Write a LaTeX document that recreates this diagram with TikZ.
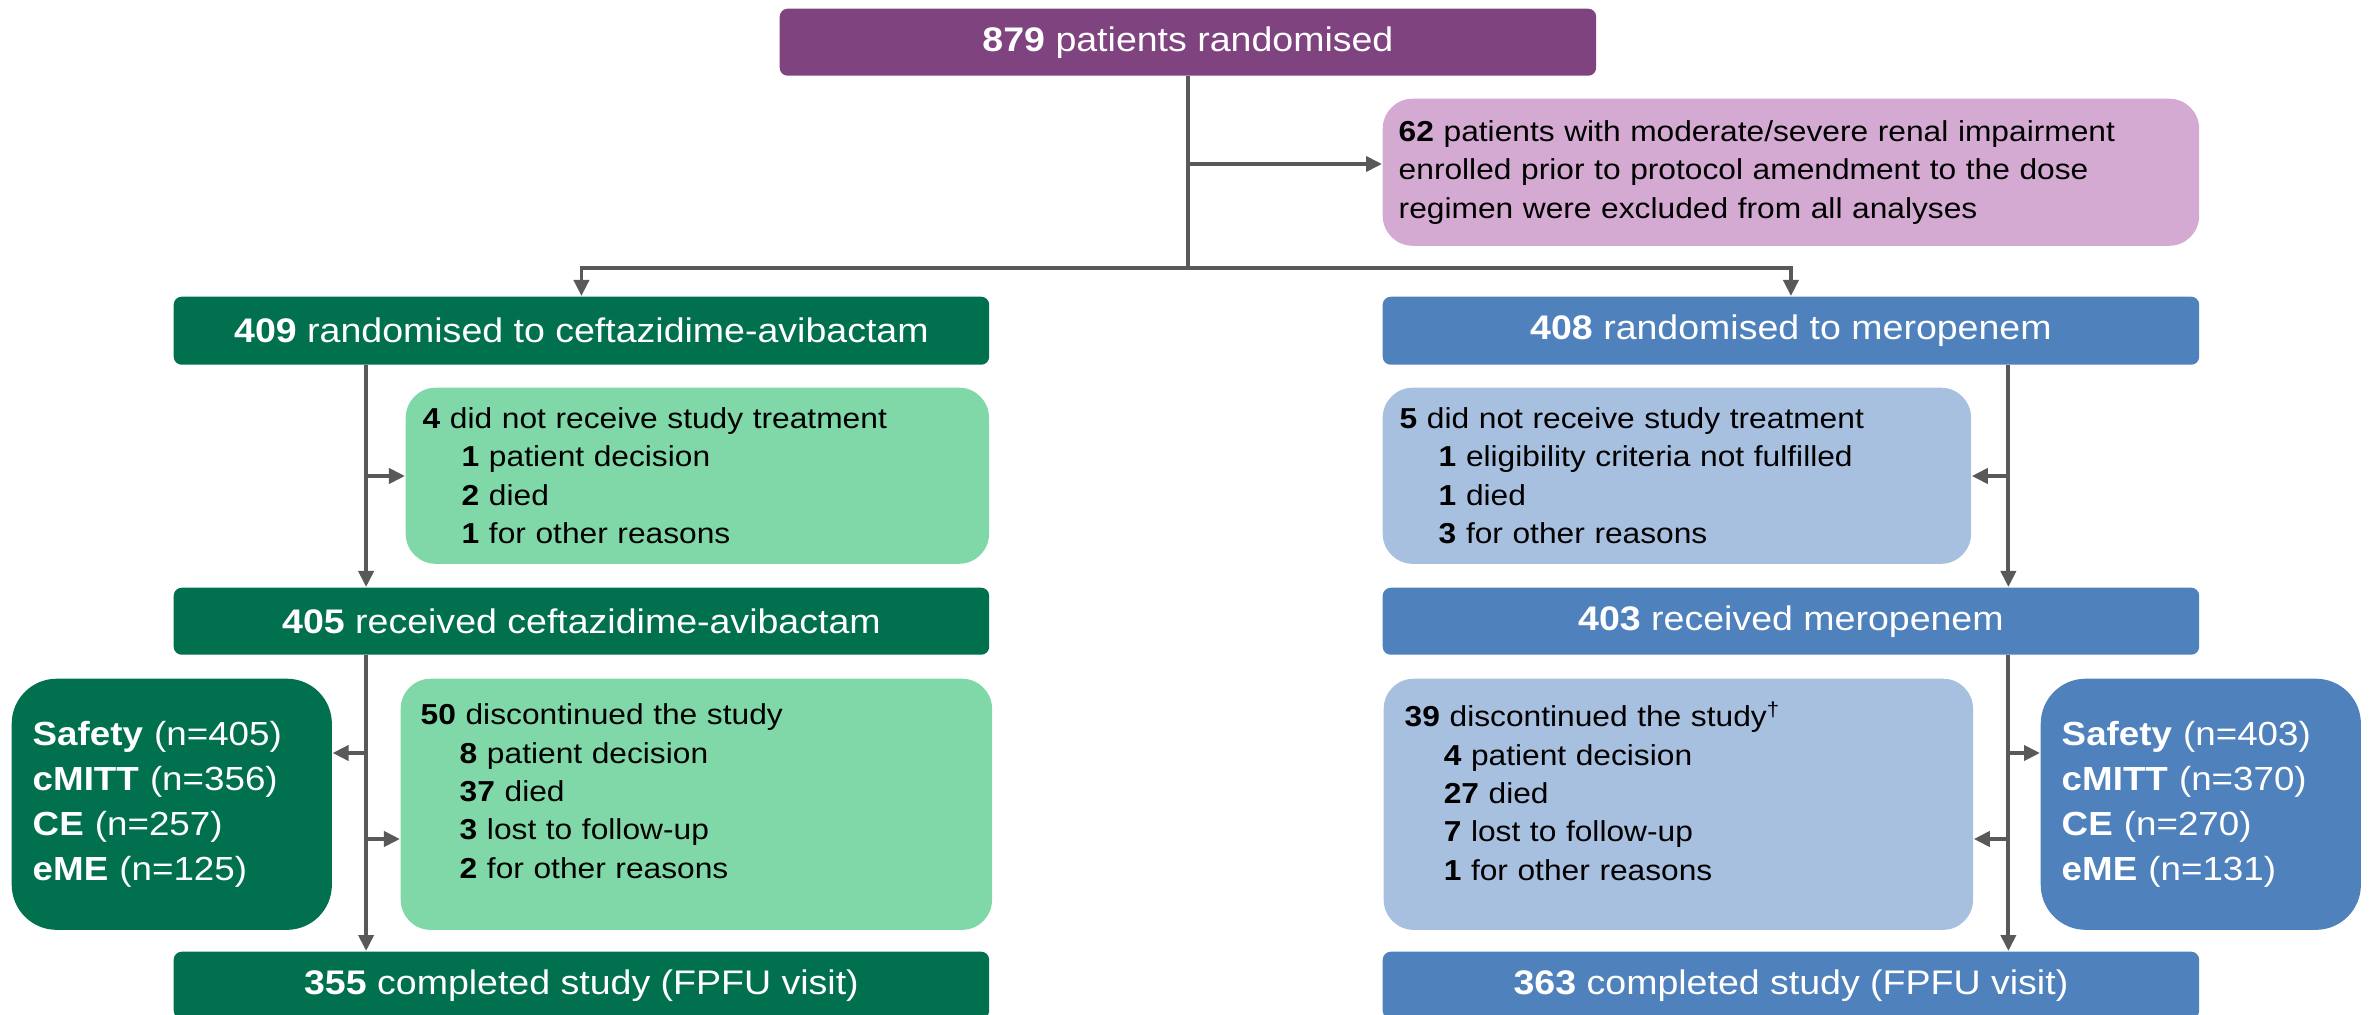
\documentclass[tikz,border=0pt]{standalone}
\usepackage{fontspec}
\setmainfont{Liberation Sans}[FakeStretch=1.1]
\usetikzlibrary{arrows.meta}
\definecolor{cpurple}{HTML}{7F437F}
\definecolor{cpink}{HTML}{D4AAD3}
\definecolor{cdgreen}{HTML}{00704F}
\definecolor{clgreen}{HTML}{80D8A8}
\definecolor{cdblue}{HTML}{4F81BD}
\definecolor{clblue}{HTML}{A8C0DF}
\definecolor{cline}{HTML}{595959}
\newcommand\fmain{\fontsize{9.7}{11.5}\selectfont}
\newcommand\fsmall{\fontsize{8.2}{10.9}\selectfont}
\newcommand\fsafe{\fontsize{9.5}{12.8}\selectfont}
\newcommand\ind{\hspace*{0.39cm}}
\begin{document}
\begin{tikzpicture}[x=0.01cm,y=-0.01cm,
  mainbox/.style={anchor=north west, rounded corners=0.08cm, text=white, font=\fmain, align=center, inner sep=0pt, minimum height=0.67cm},
  infobox/.style={anchor=north west, rounded corners=0.3cm, font=\fsmall, align=left, inner xsep=0.17cm, inner ysep=0pt},
  popbox/.style={anchor=north west, rounded corners=0.45cm, font=\fsafe, text=white, align=left, inner xsep=0.21cm, inner ysep=0pt, text width=2.78cm, minimum height=2.51cm},
  conn/.style={draw=cline, line width=0.038cm},
  arr/.style={conn, -{Triangle[length=0.16cm,width=0.15cm]}}
]
\useasboundingbox (0,0) rectangle (2369,1015);
% boxes
\node[mainbox, fill=cpurple, minimum width=8.16cm] (top) at (779,8) {\textbf{879} patients randomised};
\node[infobox, fill=cpink, text width=7.84cm, inner xsep=0.16cm, minimum height=1.47cm] (excl) at (1382,98)
  {\textbf{62} patients with moderate/severe renal impairment\\enrolled prior to protocol amendment to the dose\\regimen were excluded from all analyses};
\node[mainbox, fill=cdgreen, minimum width=8.15cm, minimum height=0.68cm] (g1) at (173,296) {\textbf{409} randomised to ceftazidime-avibactam};
\node[mainbox, fill=cdblue, minimum width=8.16cm, minimum height=0.68cm] (b1) at (1382,296) {\textbf{408} randomised to meropenem};
\node[infobox, fill=clgreen, text width=5.49cm, minimum height=1.76cm] (g2) at (405,387)
  {\textbf{4} did not receive study treatment\\\ind\textbf{1} patient decision\\\ind\textbf{2} died\\\ind\textbf{1} for other reasons};
\node[infobox, fill=clblue, text width=5.54cm, minimum height=1.76cm] (b2) at (1382,387)
  {\textbf{5} did not receive study treatment\\\ind\textbf{1} eligibility criteria not fulfilled\\\ind\textbf{1} died\\\ind\textbf{3} for other reasons};
\node[mainbox, fill=cdgreen, minimum width=8.15cm] (g3) at (173,587) {\textbf{405} received ceftazidime-avibactam};
\node[mainbox, fill=cdblue, minimum width=8.16cm] (b3) at (1382,587) {\textbf{403} received meropenem};
\node[popbox, fill=cdgreen] (gs) at (11,678)
  {\textbf{Safety} (n=405)\\\textbf{cMITT} (n=356)\\\textbf{CE} (n=257)\\\textbf{eME} (n=125)};
\node[infobox, fill=clgreen, text width=5.51cm, inner xsep=0.2cm, minimum height=2.51cm] (g4) at (400,678)
  {\textbf{50} discontinued the study\\\ind\textbf{8} patient decision\\\ind\textbf{37} died\\\ind\textbf{3} lost to follow-up\\\ind\textbf{2} for other reasons\\[-0.12cm]\mbox{}};
\node[infobox, fill=clblue, text width=5.47cm, inner xsep=0.21cm, minimum height=2.51cm] (b4) at (1383,678)
  {\textbf{39} discontinued the study\textsuperscript{\textdagger}\\\ind\textbf{4} patient decision\\\ind\textbf{27} died\\\ind\textbf{7} lost to follow-up\\\ind\textbf{1} for other reasons\\[-0.12cm]\mbox{}};
\node[popbox, fill=cdblue] (bs) at (2040,678)
  {\textbf{Safety} (n=403)\\\textbf{cMITT} (n=370)\\\textbf{CE} (n=270)\\\textbf{eME} (n=131)};
\node[mainbox, fill=cdgreen, minimum width=8.15cm] (g5) at (173,951) {\textbf{355} completed study (FPFU visit)};
\node[mainbox, fill=cdblue, minimum width=8.16cm] (b5) at (1382,951) {\textbf{363} completed study (FPFU visit)};
% connectors
\coordinate (ja) at (top.south |- 0,164);
\coordinate (jb) at (top.south |- 0,268);
\draw[conn] (top.south) -- (jb);
\draw[arr] (ja) -- (ja -| excl.west);
\draw[arr] (jb) -| (g1.north);
\draw[arr] (jb) -| (b1.north);
% left column
\coordinate (lt) at ([xshift=1.93cm]g1.south west);
\draw[arr] (lt) -- (lt |- g3.north);
\coordinate (la) at (lt |- 0,476);
\draw[arr] (la) -- (la -| g2.west);
\coordinate (lt2) at ([xshift=1.93cm]g3.south west);
\draw[arr] (lt2) -- (lt2 |- g5.north);
\coordinate (lc) at (lt2 |- 0,753);
\coordinate (ld) at (lt2 |- 0,839);
\draw[arr] (lc) -- (lc -| gs.east);
\draw[arr] (ld) -- (ld -| g4.west);
% right column
\coordinate (rt) at ([xshift=6.26cm]b1.south west);
\draw[arr] (rt) -- (rt |- b3.north);
\coordinate (ra) at (rt |- 0,476);
\draw[arr] (ra) -- (ra -| b2.east);
\coordinate (rt2) at ([xshift=6.26cm]b3.south west);
\draw[arr] (rt2) -- (rt2 |- b5.north);
\coordinate (rc) at (rt2 |- 0,753);
\coordinate (rd) at (rt2 |- 0,839);
\draw[arr] (rc) -- (rc -| bs.west);
\draw[arr] (rd) -- (rd -| b4.east);
\end{tikzpicture}
\end{document}
